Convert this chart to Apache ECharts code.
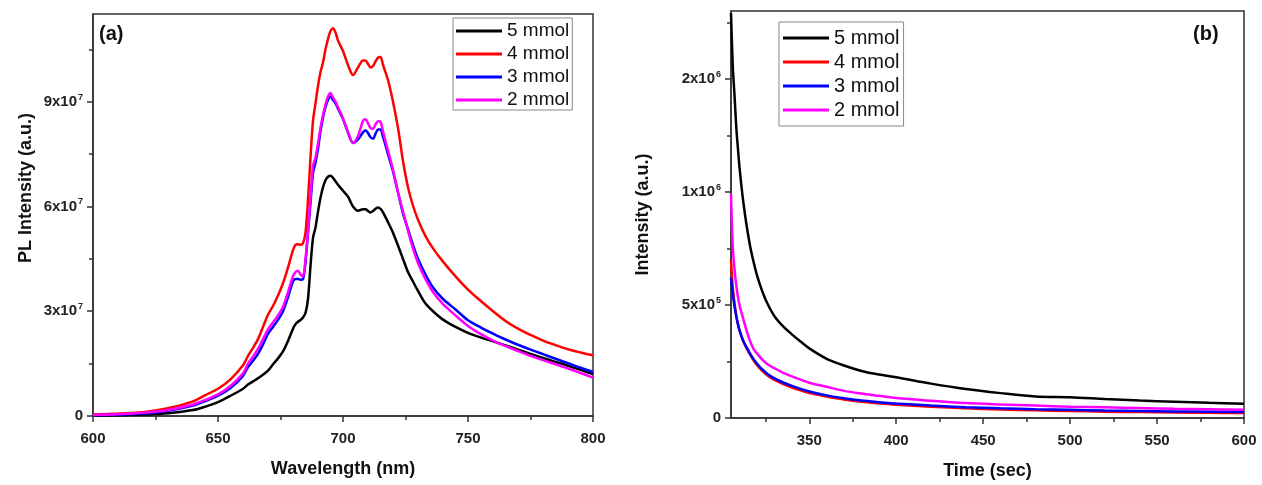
<!DOCTYPE html>
<html>
<head>
<meta charset="utf-8">
<script src="https://cdn.jsdelivr.net/npm/echarts@6/dist/echarts.min.js"></script>
<style>
  html, body { margin: 0; padding: 0; background: #ffffff; }
  #chart { width: 1262px; height: 485px; }
</style>
</head>
<body>
<div id="chart"></div>
<script>
// ---- (a) PL emission spectra: wavelength (nm) vs intensity (units of 1e7) ----
const wavelength = [600, 610, 620, 630, 640, 645, 650, 655, 660, 662, 664, 666, 668, 670, 672, 674, 676, 678, 680, 681, 682, 683, 684, 685, 686, 687, 688, 689, 690, 691, 692, 693, 694, 695, 696, 697, 698, 700, 702, 704, 706, 708, 709, 710, 711, 712, 713, 714, 715, 716, 718, 720, 722, 724, 726, 728, 730, 733, 736, 740, 745, 750, 755, 760, 765, 770, 775, 780, 785, 790, 795, 800];
const pl5mmol = [0.01, 0.02, 0.04, 0.08, 0.17, 0.27, 0.40, 0.58, 0.78, 0.90, 0.99, 1.08, 1.18, 1.30, 1.48, 1.65, 1.85, 2.15, 2.50, 2.63, 2.70, 2.75, 2.82, 2.95, 3.35, 4.30, 5.10, 5.40, 5.85, 6.25, 6.55, 6.75, 6.85, 6.88, 6.82, 6.72, 6.62, 6.45, 6.28, 6.00, 5.88, 5.92, 5.92, 5.87, 5.83, 5.87, 5.93, 5.97, 5.93, 5.83, 5.55, 5.25, 4.88, 4.50, 4.12, 3.85, 3.58, 3.22, 3.00, 2.76, 2.55, 2.38, 2.25, 2.14, 2.02, 1.90, 1.78, 1.66, 1.55, 1.44, 1.32, 1.20];
const pl4mmol = [0.04, 0.07, 0.11, 0.22, 0.42, 0.60, 0.78, 1.05, 1.45, 1.72, 1.95, 2.20, 2.55, 2.90, 3.15, 3.45, 3.80, 4.25, 4.75, 4.90, 4.92, 4.90, 4.95, 5.25, 6.20, 7.40, 8.45, 8.95, 9.45, 9.85, 10.12, 10.50, 10.80, 11.02, 11.10, 10.98, 10.75, 10.45, 10.05, 9.76, 9.98, 10.18, 10.18, 10.08, 9.98, 10.02, 10.15, 10.26, 10.28, 10.05, 9.62, 9.00, 8.25, 7.30, 6.55, 6.02, 5.62, 5.15, 4.80, 4.42, 4.00, 3.62, 3.30, 3.00, 2.72, 2.50, 2.32, 2.16, 2.03, 1.91, 1.82, 1.74];
const pl3mmol = [0.02, 0.04, 0.07, 0.15, 0.30, 0.43, 0.58, 0.80, 1.15, 1.40, 1.58, 1.78, 2.05, 2.35, 2.55, 2.75, 3.00, 3.40, 3.85, 3.92, 3.92, 3.90, 3.92, 4.40, 5.25, 6.10, 6.95, 7.25, 7.65, 8.15, 8.55, 8.85, 9.05, 9.15, 9.05, 8.95, 8.80, 8.50, 8.12, 7.82, 7.92, 8.12, 8.18, 8.10, 7.98, 7.94, 8.08, 8.20, 8.20, 8.00, 7.50, 7.00, 6.40, 5.80, 5.35, 4.90, 4.50, 4.05, 3.68, 3.35, 3.05, 2.74, 2.54, 2.36, 2.19, 2.04, 1.90, 1.77, 1.64, 1.51, 1.38, 1.26];
const pl2mmol = [0.03, 0.05, 0.09, 0.17, 0.33, 0.46, 0.62, 0.86, 1.22, 1.50, 1.70, 1.92, 2.20, 2.48, 2.68, 2.88, 3.12, 3.55, 4.00, 4.12, 4.16, 4.05, 4.00, 4.50, 5.30, 6.25, 7.15, 7.40, 7.80, 8.25, 8.62, 8.92, 9.15, 9.25, 9.12, 9.00, 8.84, 8.52, 8.12, 7.82, 8.02, 8.45, 8.50, 8.38, 8.25, 8.22, 8.35, 8.44, 8.42, 8.15, 7.60, 7.05, 6.40, 5.85, 5.30, 4.80, 4.38, 3.92, 3.55, 3.20, 2.88, 2.58, 2.35, 2.16, 2.00, 1.86, 1.72, 1.60, 1.48, 1.36, 1.23, 1.10];
const plScale = 1e7;

// ---- (b) decay curves: time (sec) vs intensity (units of 1e5) ----
const time = [305, 306, 307, 308, 309, 310, 312, 314, 316, 318, 320, 323, 326, 330, 335, 340, 345, 350, 360, 370, 380, 390, 400, 420, 440, 460, 480, 500, 520, 540, 560, 580, 600];
const decay5mmol = [17.9, 15.6, 14.3, 12.9, 11.9, 11.0, 9.6, 8.5, 7.6, 6.9, 6.3, 5.6, 5.05, 4.50, 4.05, 3.70, 3.38, 3.08, 2.62, 2.32, 2.08, 1.92, 1.80, 1.52, 1.28, 1.10, 0.95, 0.92, 0.84, 0.77, 0.72, 0.67, 0.63];
const decay4mmol = [7.0, 5.8, 5.1, 4.55, 4.15, 3.85, 3.40, 3.08, 2.80, 2.55, 2.33, 2.08, 1.88, 1.68, 1.50, 1.35, 1.22, 1.10, 0.95, 0.82, 0.72, 0.65, 0.59, 0.50, 0.43, 0.38, 0.34, 0.31, 0.28, 0.26, 0.24, 0.23, 0.22];
const decay3mmol = [6.2, 5.5, 4.95, 4.50, 4.15, 3.85, 3.42, 3.12, 2.85, 2.60, 2.40, 2.15, 1.95, 1.75, 1.57, 1.42, 1.29, 1.17, 1.00, 0.87, 0.77, 0.70, 0.64, 0.55, 0.48, 0.43, 0.39, 0.36, 0.33, 0.31, 0.29, 0.28, 0.27];
const decay2mmol = [9.9, 7.6, 6.6, 5.9, 5.35, 4.95, 4.40, 3.85, 3.40, 3.05, 2.85, 2.58, 2.38, 2.20, 2.00, 1.84, 1.70, 1.56, 1.38, 1.20, 1.08, 0.98, 0.88, 0.76, 0.66, 0.60, 0.55, 0.50, 0.47, 0.44, 0.41, 0.39, 0.37];
const decayScale = 1e5;

// ---- legend names and tick labels ----
const seriesNames = ['5 mmol', '4 mmol', '3 mmol', '2 mmol'];
const seriesColors = ['#000000', '#ff0000', '#0000ff', '#ff00ff'];

const plXTicks = [600, 650, 700, 750, 800];
const plXMinor = [625, 675, 725, 775];
const plYTicks = [0, 3e7, 6e7, 9e7];
const plYLabels = ['0', '3x10^7', '6x10^7', '9x10^7'];
const plYMinor = [1.5e7, 4.5e7, 7.5e7, 10.5e7];

const decayXTicks = [350, 400, 450, 500, 550, 600];
const decayXMinor = [325, 375, 425, 475, 525, 575];
const decayYTicks = [0, 5e5, 1e6, 1.5e6];
const decayYLabels = ['0', '5x10^5', '1x10^6', '2x10^6'];
const decayYMinor = [2.5e5, 7.5e5, 1.25e6, 1.75e6];

const FONT = '"Liberation Sans", Arial, sans-serif';
const AXIS_COLOR = '#333333';

function zip(xs, ys, k) { return xs.map((x, i) => [x, ys[i] * k]); }

// "3x10^7" -> rich text with a superscript exponent
function sciLabel(ticks, labels) {
  return function (v) {
    const i = ticks.findIndex(t => Math.abs(t - v) < 1e-6 * Math.max(1, Math.abs(t)));
    if (i < 0) return '';
    const parts = labels[i].split('^');
    return parts.length === 2 ? '{b|' + parts[0] + '}{s|' + parts[1] + '}' : '{b|' + parts[0] + '}';
  };
}
const richSci = {
  b: { fontFamily: FONT, fontSize: 15, fontWeight: 'bold', color: '#222', lineHeight: 18, verticalAlign: 'middle' },
  s: { fontFamily: FONT, fontSize: 9, fontWeight: 'bold', color: '#222', lineHeight: 18, verticalAlign: 'top', padding: [0, 0, 0, 1] }
};

function majorX(gridIndex, min, max, ticks, name) {
  return {
    type: 'value', gridIndex, min, max, position: 'bottom',
    name, nameLocation: 'middle', nameGap: 44,
    nameTextStyle: { fontFamily: FONT, fontSize: 18, fontWeight: 'bold', color: '#111' },
    axisLine: { show: true, onZero: false, lineStyle: { color: AXIS_COLOR, width: 1.5 } },
    axisTick: { show: true, customValues: ticks, length: 6, lineStyle: { color: AXIS_COLOR, width: 1.5 } },
    axisLabel: { customValues: ticks, margin: 15, fontFamily: FONT, fontSize: 15, fontWeight: 'bold', color: '#222' },
    splitLine: { show: false }
  };
}
function minorX(gridIndex, min, max, ticks) {
  return {
    type: 'value', gridIndex, min, max, position: 'bottom', offset: 0,
    axisLine: { show: false },
    axisTick: { show: true, customValues: ticks, length: 4, lineStyle: { color: AXIS_COLOR, width: 1.5 } },
    axisLabel: { show: false },
    splitLine: { show: false }
  };
}
function majorY(gridIndex, min, max, ticks, labels, name, nameGap, namePad) {
  return {
    type: 'value', gridIndex, min, max, position: 'left',
    name, nameLocation: 'middle', nameGap,
    nameTextStyle: { fontFamily: FONT, fontSize: 18, fontWeight: 'bold', color: '#111', padding: namePad },
    axisLine: { show: true, onZero: false, lineStyle: { color: AXIS_COLOR, width: 1.5 } },
    axisTick: { show: true, customValues: ticks, length: 6, lineStyle: { color: AXIS_COLOR, width: 1.5 } },
    axisLabel: { customValues: ticks, margin: 10, formatter: sciLabel(ticks, labels), rich: richSci },
    splitLine: { show: false }
  };
}
function minorY(gridIndex, min, max, ticks) {
  return {
    type: 'value', gridIndex, min, max, position: 'left', offset: 0,
    axisLine: { show: false },
    axisTick: { show: true, customValues: ticks, length: 4, lineStyle: { color: AXIS_COLOR, width: 1.5 } },
    axisLabel: { show: false },
    splitLine: { show: false }
  };
}
// boxed vertical legend with short line samples
function legendBox(left, top, fontSize, lineHeight, itemGap, padding) {
  return {
    orient: 'vertical', left, top, data: seriesNames,
    icon: 'rect', itemWidth: 46, itemHeight: 3, itemGap, padding,
    borderColor: '#888', borderWidth: 1, backgroundColor: '#fff',
    selectedMode: false,
    textStyle: { fontFamily: FONT, fontSize, lineHeight, color: '#111' }
  };
}

const plData = [pl5mmol, pl4mmol, pl3mmol, pl2mmol];
const decayData = [decay5mmol, decay4mmol, decay3mmol, decay2mmol];

const series = [];
seriesNames.forEach((name, i) => {
  series.push({
    name, type: 'line', xAxisIndex: 0, yAxisIndex: 0, symbol: 'none', smooth: 0.3,
    lineStyle: { color: seriesColors[i], width: 2.5 }, itemStyle: { color: seriesColors[i] },
    data: zip(wavelength, plData[i], plScale), z: 3 + i
  });
});
seriesNames.forEach((name, i) => {
  series.push({
    name, type: 'line', xAxisIndex: 2, yAxisIndex: 2, symbol: 'none', smooth: 0.3,
    lineStyle: { color: seriesColors[i], width: 2.5 }, itemStyle: { color: seriesColors[i] },
    data: zip(time, decayData[i], decayScale), z: 3 + i
  });
});

const chart = echarts.init(document.getElementById('chart'), null, { renderer: 'canvas' });
chart.setOption({
  animation: false,
  backgroundColor: '#ffffff',
  title: [
    { text: '(a)', left: 94, top: 19, textStyle: { fontFamily: FONT, fontSize: 20, fontWeight: 'bold', color: '#111' } },
    { text: '(b)', left: 1188, top: 19, textStyle: { fontFamily: FONT, fontSize: 20, fontWeight: 'bold', color: '#111' } }
  ],
  legend: [
    legendBox(453, 18, 19, 20, 3, [3, 3, 0, 3]),
    legendBox(779, 22, 20, 22, 2, [5, 4, 5, 4])
  ],
  grid: [
    { left: 93, top: 14, width: 500, height: 402, show: true, borderColor: AXIS_COLOR, borderWidth: 1.5, backgroundColor: 'transparent' },
    { left: 731, top: 11, width: 513, height: 409, show: true, borderColor: AXIS_COLOR, borderWidth: 1.5, backgroundColor: 'transparent' }
  ],
  xAxis: [
    majorX(0, 600, 800, plXTicks, 'Wavelength (nm)'),
    minorX(0, 600, 800, plXMinor),
    majorX(1, 305, 600, decayXTicks, 'Time (sec)'),
    minorX(1, 305, 600, decayXMinor)
  ],
  yAxis: [
    majorY(0, 0, 1.151e8, plYTicks, plYLabels, 'PL Intensity (a.u.)', 58, [0, 0, 0, 54]),
    minorY(0, 0, 1.151e8, plYMinor),
    majorY(1, 0, 1.8e6, decayYTicks, decayYLabels, 'Intensity (a.u.)', 79, [0, 0, 0, 0]),
    minorY(1, 0, 1.8e6, decayYMinor)
  ],
  series
});
</script>
</body>
</html>
